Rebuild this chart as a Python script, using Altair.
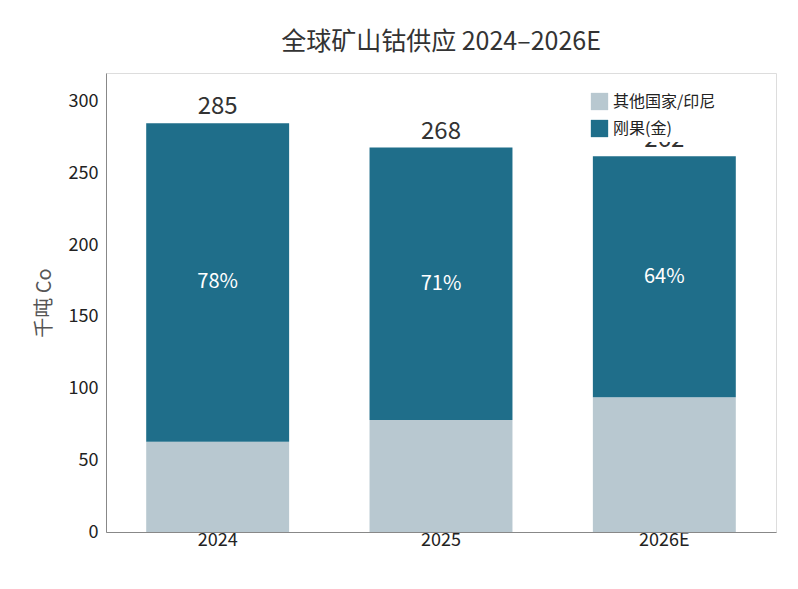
import altair as alt
import pandas as pd

years = ['2024', '2025', '2026E']
totals = [285, 268, 262]
drc_share = [78, 71, 64]
other = [63, 78, 94]
drc = [222, 190, 168]

series = ['其他国家/印尼', '刚果(金)']
colors = ['#b8c8d0', '#1f6e8a']

rows = []
for i, y in enumerate(years):
    rows.append({'year': y, 'series': series[0], 'value': other[i], 'order': 0})
    rows.append({'year': y, 'series': series[1], 'value': drc[i], 'order': 1})
df = pd.DataFrame(rows)

lab = pd.DataFrame({'year': years, 'total': totals,
                    'share': [f'{s}%' for s in drc_share],
                    'mid': [o + d / 2 for o, d in zip(other, drc)]})

font = 'Noto Sans CJK SC'
x = alt.X('year:N', sort=years, title=None,
          scale=alt.Scale(paddingInner=0.36, paddingOuter=0.18),
          axis=alt.Axis(labelAngle=0, labelAlign='center', labelFontSize=18,
                        labelColor='#222', domainColor='#888', ticks=False,
                        labelPadding=8))

bars = alt.Chart(df).mark_bar().encode(
    x=x,
    y=alt.Y('value:Q', stack='zero', title='千吨 Co',
            scale=alt.Scale(domain=[0, 320], nice=False),
            axis=alt.Axis(values=[0, 50, 100, 150, 200, 250, 300], grid=False,
                          labelFontSize=18, labelColor='#222', titleFontSize=20,
                          titleColor='#555', titleFontWeight='normal',
                          domainColor='#888', ticks=False, labelPadding=8,
                          titlePadding=14)),
    color=alt.Color('series:N', sort=series,
                    scale=alt.Scale(domain=series, range=colors),
                    legend=alt.Legend(title=None, orient='none', legendX=480, legendY=15,
                                      symbolType='square', symbolSize=300,
                                      labelFontSize=16, labelColor='#222',
                                      fillColor='white', padding=4, rowPadding=8)),
    order=alt.Order('order:Q'),
)

tot = alt.Chart(lab).mark_text(dy=-16, fontSize=24, color='#333', font=font).encode(
    x=alt.X('year:N', sort=years), y='total:Q', text='total:Q')
pct = alt.Chart(lab).mark_text(fontSize=20, color='white', font=font).encode(
    x=alt.X('year:N', sort=years), y='mid:Q', text='share:N')

chart = alt.layer(tot, bars, pct).properties(
    width=670, height=459,
    padding={'top': 22, 'left': 26, 'right': 5, 'bottom': 5},
    title=alt.Title('全球矿山钴供应 2024–2026E', fontSize=25, color='#333',
                    fontWeight='normal', font=font, anchor='middle', offset=18),
).configure_view(strokeWidth=0).configure(font=font)

chart.save("out.html", embed_options={"renderer": "svg", "actions": False})
